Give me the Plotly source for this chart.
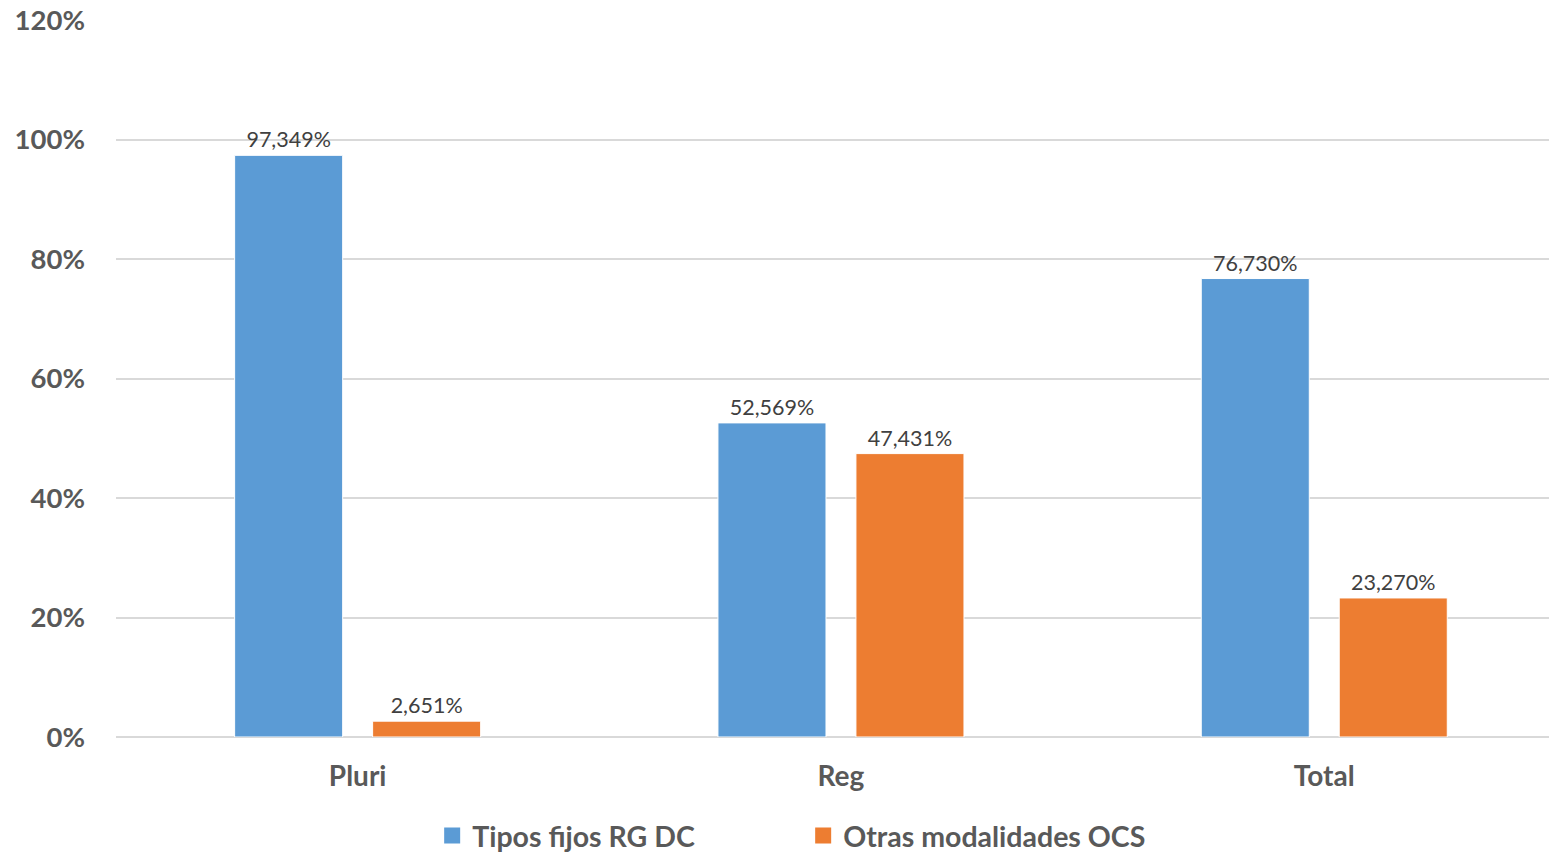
import plotly.graph_objects as go

categories = ["Pluri", "Reg", "Total"]
tipos_fijos = [0.97349, 0.52569, 0.76730]
otras_modalidades = [0.02651, 0.47431, 0.23270]
series_names = ["Tipos fijos RG DC", "Otras modalidades OCS"]
colors = ["#5B9BD5", "#ED7D31"]
y_ticks = [0, 0.2, 0.4, 0.6, 0.8, 1.0, 1.2]

FONT = "Lato, 'Open Sans', sans-serif"

fig = go.Figure()
for name, vals, color in [(series_names[0], tipos_fijos, colors[0]),
                          (series_names[1], otras_modalidades, colors[1])]:
    fig.add_trace(go.Bar(
        x=categories, y=vals, name=name, showlegend=False,
        marker=dict(color=color, line=dict(color="white", width=1)),
        texttemplate="%{y:.3%}", textposition="outside",
        textfont=dict(family=FONT, size=21.5, color="#404040"),
        cliponaxis=False,
    ))
# legend entries with large square swatches
for name, color in zip(series_names, colors):
    fig.add_trace(go.Scatter(
        x=[None], y=[None], mode="markers", name=name,
        marker=dict(symbol="square", size=18, color=color),
    ))

fig.update_layout(
    width=1549, height=852,
    margin=dict(l=116, r=0, t=20, b=115),
    paper_bgcolor="white", plot_bgcolor="white",
    separators=",.",
    barmode="group", bargap=0.429, bargroupgap=0.217,
    showlegend=True,
    legend=dict(orientation="h", xref="container", yref="container",
                x=0.279, xanchor="left", y=0.0188, yanchor="middle",
                font=dict(family=FONT, size=28.5, color="#595959", weight="bold"),
                itemwidth=30, entrywidth=326, entrywidthmode="pixels"),
    font=dict(family=FONT),
)
fig.update_xaxes(range=[-0.5, 2.465], showgrid=False, showline=False, ticks="",
                 ticklabelstandoff=20,
                 tickfont=dict(family=FONT, size=28, color="#595959", weight="bold"))
fig.update_yaxes(range=[0, 1.2], tickvals=y_ticks, tickformat=".0%",
                 showgrid=True, gridcolor="#D9D9D9", gridwidth=1.5,
                 zeroline=True, zerolinecolor="#D9D9D9", zerolinewidth=1.5,
                 ticks="", ticklabelstandoff=30,
                 tickfont=dict(family=FONT, size=27.5, color="#595959", weight="bold"))

fig.write_html("out.html", config={"displayModeBar": False},
               post_script="document.body.style.margin='0';")
